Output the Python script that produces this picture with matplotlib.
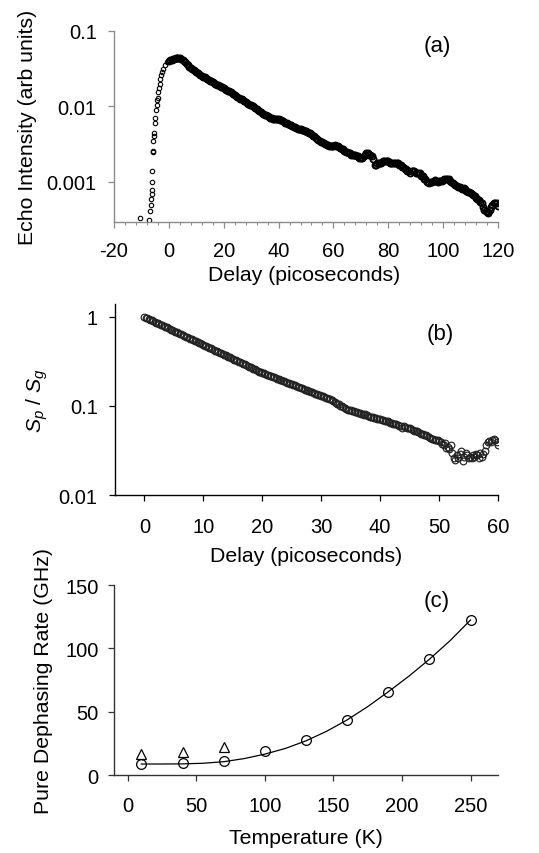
import numpy as np
import matplotlib
matplotlib.use("Agg")
import matplotlib.pyplot as plt
from matplotlib.ticker import MultipleLocator, NullLocator

plt.rcParams['font.family'] = ['Liberation Sans', 'DejaVu Sans']
plt.rcParams['mathtext.fontset'] = 'custom'
plt.rcParams['mathtext.it'] = 'Liberation Sans:italic'
plt.rcParams['mathtext.rm'] = 'Liberation Sans'
plt.rcParams['axes.unicode_minus'] = False

# (a) echo intensity vs delay
rise_delay = [-10.4, -7.1, -6.7, -6.6, -6.5, -6.3, -6.2, -6.1, -6.0, -5.85, -5.7,
              -5.6, -5.5, -5.4, -5.1, -5.0, -4.75, -4.5, -4.3, -4.1, -3.9, -3.7,
              -3.4, -3.2, -2.9, -2.6, -2.1, -1.5, -0.6]
rise_echo = [3.3e-4, 3.1e-4, 4.1e-4, 4.9e-4, 6.0e-4, 7.0e-4, 7.9e-4, 1.0e-3, 1.4e-3,
             2.46e-3, 2.57e-3, 3.5e-3, 4.0e-3, 4.5e-3, 6.1e-3, 7.0e-3, 9.1e-3, 1.05e-2,
             1.2e-2, 1.3e-2, 1.55e-2, 1.75e-2, 2.0e-2, 2.3e-2, 2.6e-2, 2.85e-2, 3.16e-2,
             3.5e-2, 3.9e-2]
decay_delay = np.arange(0, 120.5, 0.5)
decay_echo = [
    0.0405, 0.0412, 0.0418, 0.0423, 0.0428, 0.0433, 0.0437, 0.0436, 0.0432, 0.0423,
    0.0412, 0.0397, 0.0382, 0.0367, 0.0352, 0.0338, 0.0325, 0.0312, 0.0300, 0.0292,
    0.0285, 0.0277, 0.0270, 0.0262, 0.0255, 0.0249, 0.0243, 0.0238, 0.0232, 0.0226,
    0.0220, 0.0215, 0.0210, 0.0204, 0.0199, 0.0195, 0.0190, 0.0186, 0.0182, 0.0179,
    0.0175, 0.0171, 0.0167, 0.0162, 0.0158, 0.0153, 0.0149, 0.0145, 0.0141, 0.0137,
    0.0134, 0.0130, 0.0127, 0.0124, 0.0121, 0.0118, 0.0115, 0.0112, 0.0109, 0.0106,
    0.0104, 0.0101, 0.0099, 0.0096, 0.0093, 0.0090, 0.0088, 0.0085, 0.0083, 0.0080,
    0.0078, 0.0076, 0.0074, 0.0072, 0.0071, 0.0070, 0.0069, 0.0068, 0.0068, 0.0068,
    0.0068, 0.0067, 0.0066, 0.0064, 0.0063, 0.0061, 0.0060, 0.0058, 0.0057, 0.0056,
    0.0055, 0.0054, 0.0053, 0.0052, 0.0051, 0.0050, 0.0050, 0.0049, 0.0049, 0.0048,
    0.0047, 0.0046, 0.0045, 0.0044, 0.0043, 0.0041, 0.0040, 0.0038, 0.0037, 0.0036,
    0.0035, 0.0034, 0.0034, 0.0033, 0.0032, 0.0031, 0.0031, 0.0030, 0.0030, 0.0030,
    0.0030, 0.0031, 0.0030, 0.0030, 0.0029, 0.0028, 0.0027, 0.0027, 0.0026, 0.0025,
    0.0025, 0.0024, 0.0024, 0.0023, 0.0023, 0.0023, 0.0023, 0.0022, 0.0022, 0.0021,
    0.0021, 0.0021, 0.0022, 0.0023, 0.0024, 0.0024, 0.0023, 0.0023, 0.0022, 0.0020,
    0.0017, 0.0017, 0.0018, 0.0018, 0.0018, 0.0018, 0.0019, 0.0019, 0.0019, 0.0019,
    0.0019, 0.0018, 0.0018, 0.0018, 0.0018, 0.0018, 0.0018, 0.0018, 0.0017, 0.0017,
    0.0016, 0.0016, 0.0015, 0.0015, 0.0014, 0.0014, 0.0013, 0.0014, 0.0014, 0.0014,
    0.0013, 0.0013, 0.0013, 0.0013, 0.0012, 0.0012, 0.0011, 0.0011, 0.0010, 0.0010,
    0.00098, 0.00099, 0.00101, 0.00104, 0.00105, 0.00102, 0.00100, 0.00102, 0.00103, 0.00104,
    0.00105, 0.00108, 0.00110, 0.00111, 0.00108, 0.00104, 0.00100, 0.00097, 0.00095, 0.00091,
    0.00088, 0.00087, 0.00085, 0.00082, 0.00080, 0.00082, 0.00080, 0.00076, 0.00073, 0.00073,
    0.00072, 0.00070, 0.00068, 0.00065, 0.00062, 0.00060, 0.00058, 0.00055, 0.00052, 0.00047,
    0.00042, 0.00041, 0.00040, 0.00039, 0.00042, 0.00046, 0.00050, 0.00052, 0.00052, 0.00053,
    0.00048]

# (b) Sp / Sg vs delay
ratio_delay = np.arange(0, 60.25, 0.25)
ratio = [
    1.000, 0.982, 0.965, 0.947, 0.930, 0.914, 0.897, 0.881, 0.865, 0.850,
    0.835, 0.820, 0.805, 0.791, 0.777, 0.763, 0.749, 0.736, 0.722, 0.709,
    0.697, 0.684, 0.672, 0.660, 0.648, 0.637, 0.625, 0.614, 0.603, 0.592,
    0.582, 0.571, 0.561, 0.551, 0.541, 0.532, 0.522, 0.513, 0.504, 0.495,
    0.486, 0.477, 0.469, 0.460, 0.452, 0.444, 0.436, 0.428, 0.420, 0.413,
    0.405, 0.398, 0.391, 0.384, 0.377, 0.370, 0.364, 0.357, 0.351, 0.344,
    0.338, 0.332, 0.326, 0.320, 0.315, 0.309, 0.303, 0.298, 0.293, 0.287,
    0.282, 0.277, 0.272, 0.267, 0.263, 0.258, 0.253, 0.249, 0.244, 0.240,
    0.236, 0.232, 0.229, 0.225, 0.222, 0.219, 0.216, 0.212, 0.209, 0.206,
    0.203, 0.200, 0.197, 0.194, 0.191, 0.189, 0.186, 0.183, 0.180, 0.178,
    0.175, 0.173, 0.170, 0.168, 0.165, 0.163, 0.160, 0.158, 0.156, 0.153,
    0.151, 0.149, 0.147, 0.145, 0.142, 0.140, 0.138, 0.136, 0.134, 0.132,
    0.131, 0.128, 0.126, 0.124, 0.122, 0.121, 0.120, 0.117, 0.113, 0.110,
    0.108, 0.106, 0.104, 0.101, 0.099, 0.097, 0.094, 0.093, 0.091, 0.090,
    0.089, 0.088, 0.087, 0.086, 0.085, 0.084, 0.083, 0.082, 0.081, 0.080,
    0.081, 0.079, 0.077, 0.076, 0.075, 0.075, 0.074, 0.073, 0.072, 0.072,
    0.071, 0.070, 0.069, 0.068, 0.067, 0.067, 0.066, 0.065, 0.064, 0.063,
    0.062, 0.062, 0.061, 0.060, 0.059, 0.057, 0.059, 0.058, 0.057, 0.057,
    0.056, 0.055, 0.054, 0.053, 0.052, 0.052, 0.051, 0.050, 0.049, 0.048,
    0.047, 0.047, 0.046, 0.045, 0.044, 0.043, 0.043, 0.042, 0.041, 0.041,
    0.040, 0.039, 0.037, 0.036, 0.038, 0.034, 0.035, 0.033, 0.036, 0.030,
    0.026, 0.025, 0.028, 0.026, 0.029, 0.031, 0.024, 0.027, 0.030, 0.028,
    0.026, 0.027, 0.026, 0.028, 0.027, 0.029, 0.028, 0.026, 0.030, 0.027,
    0.029, 0.031, 0.036, 0.039, 0.040, 0.039, 0.041, 0.043, 0.041, 0.039,
    0.036]

# (c) pure dephasing rate vs temperature
temp_circ = [10, 40, 70, 100, 130, 160, 190, 220, 250]
rate_circ = [8.7, 9.5, 11.3, 18.9, 27.3, 43.1, 65.9, 91.4, 122.7]
temp_tri = [10, 40, 70]
rate_tri = [16.3, 18.1, 22.1]
temp_fit = [10, 25, 40, 55, 70, 85, 100, 115, 130, 145, 160, 175, 190, 205, 220, 235, 250]
rate_fit = [8.7, 8.7, 8.8, 9.3, 10.5, 13.0, 16.5, 21.0, 27.0, 34.5, 43.5, 54.0,
            65.7, 78.0, 91.4, 106.0, 122.4]

fs_tick = 14.5
fs_label = 15.3
fs_panel = 16

fig = plt.figure(figsize=(5.39, 8.54), dpi=100)
ax_a = fig.add_axes([0.2115, 0.7389, 0.7124, 0.2237])
ax_b = fig.add_axes([0.2134, 0.4192, 0.7106, 0.2237])
ax_c = fig.add_axes([0.2115, 0.0913, 0.7124, 0.2225])


def style(ax, col, xpad, ypad):
    for s in ['top', 'right']:
        ax.spines[s].set_visible(False)
    for s in ['left', 'bottom']:
        ax.spines[s].set_color(col)
        ax.spines[s].set_linewidth(1.0)
    ax.tick_params(which='major', direction='out', length=4, width=0.9, color=col,
                   labelsize=fs_tick, labelcolor='black')
    ax.tick_params(axis='x', which='major', pad=xpad)
    ax.tick_params(axis='y', which='major', pad=ypad)
    ax.tick_params(which='minor', direction='out', length=2.5, width=0.8, color=col)


# panel a
ax_a.plot(decay_delay, decay_echo, 'o', mfc='none', mec='black', ms=4.4, mew=1.3)
ax_a.plot(rise_delay, rise_echo, 'o', mfc='none', mec='black', ms=3.2, mew=0.8)
ax_a.set_yscale('log')
ax_a.set_xlim(-20, 120)
ax_a.set_ylim(2.95e-4, 0.1)
ax_a.set_xticks([-20, 0, 20, 40, 60, 80, 100, 120])
ax_a.xaxis.set_minor_locator(MultipleLocator(4))
ax_a.set_yticks([0.001, 0.01, 0.1], ['0.001', '0.01', '0.1'])
ax_a.yaxis.set_minor_locator(NullLocator())
style(ax_a, '#8c8c8c', 9.5, 8.5)
ax_a.set_xlabel('Delay (picoseconds)', fontsize=fs_label)
ax_a.set_ylabel('Echo Intensity (arb units)', fontsize=fs_label)
ax_a.xaxis.set_label_coords(0.495, -0.225)
ax_a.yaxis.set_label_coords(-0.200, 0.5)
ax_a.text(97.7, 0.065, '(a)', fontsize=fs_panel, ha='center', va='center')

# panel b
ax_b.plot(ratio_delay, ratio, 'o', mfc='none', mec='#222222', ms=4.8, mew=0.85)
ax_b.set_yscale('log')
ax_b.set_xlim(-5, 60)
ax_b.set_ylim(0.01, 1.4)
ax_b.set_xticks([0, 10, 20, 30, 40, 50, 60])
ax_b.set_yticks([0.01, 0.1, 1], ['0.01', '0.1', '1'])
ax_b.yaxis.set_minor_locator(NullLocator())
style(ax_b, 'black', 11.5, 8.5)
ax_b.set_xlabel('Delay (picoseconds)', fontsize=fs_label)
ax_b.set_ylabel(r'$S_p$ / $S_g$', fontsize=fs_label)
ax_b.xaxis.set_label_coords(0.5, -0.265)
ax_b.yaxis.set_label_coords(-0.17, 0.5)
ax_b.text(50.2, 0.66, '(b)', fontsize=fs_panel, ha='center', va='center')

# panel c
ax_c.plot(temp_fit, rate_fit, '-', color='black', lw=0.9)
ax_c.plot(temp_circ, rate_circ, 'o', mfc='none', mec='black', ms=7, mew=0.9)
ax_c.plot(temp_tri, rate_tri, '^', mfc='none', mec='black', ms=6.5, mew=0.9)
ax_c.set_xlim(-10, 270)
ax_c.set_ylim(0, 150)
ax_c.set_xticks([0, 50, 100, 150, 200, 250])
ax_c.set_yticks([0, 50, 100, 150])
style(ax_c, '#333333', 11, 7)
ax_c.set_xlabel('Temperature (K)', fontsize=fs_label)
ax_c.set_ylabel('Pure Dephasing Rate (GHz)', fontsize=fs_label)
ax_c.xaxis.set_label_coords(0.5, -0.28)
ax_c.yaxis.set_label_coords(-0.159, 0.5)
ax_c.text(225, 137.4, '(c)', fontsize=fs_panel, ha='center', va='center')

fig.savefig('out.png', dpi=100)
